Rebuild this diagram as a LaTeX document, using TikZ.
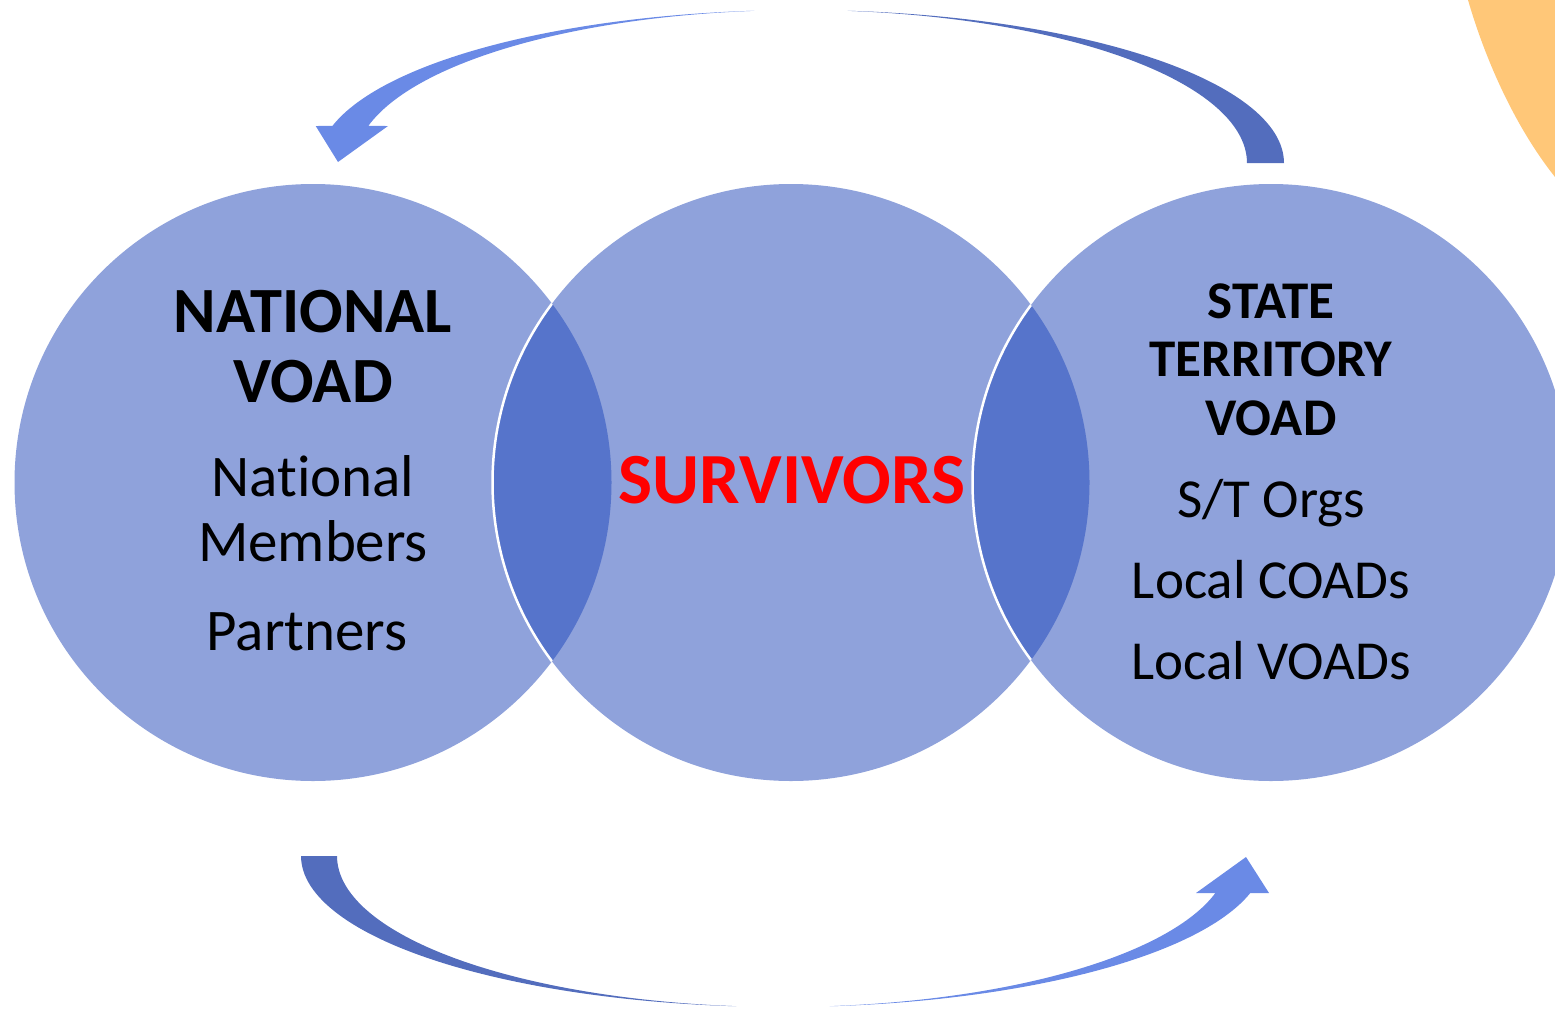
\documentclass[tikz,border=0pt]{standalone}
\usepackage{fontspec}
\setmainfont{Carlito}[Ligatures={NoCommon,NoRare}]
\definecolor{circfill}{HTML}{8FA2DB}
\definecolor{lensfill}{HTML}{5674CB}
\definecolor{arrdark}{HTML}{536DBD}
\definecolor{arrlight}{HTML}{6A8AE6}
\definecolor{sunfill}{HTML}{FFC778}
\definecolor{survred}{HTML}{FF0000}
\tikzset{
  bigcirc/.style={circle, fill=circfill, inner sep=0pt, minimum size=597pt},
  headtxt/.style={anchor=base, font=\fontsize{64.5}{70}\selectfont\bfseries, inner sep=0pt},
  bodytxt/.style={anchor=base, font=\fontsize{59}{66}\selectfont, inner sep=0pt},
  sthead/.style={anchor=base, font=\fontsize{53}{58}\selectfont\bfseries, inner sep=0pt},
  stbody/.style={anchor=base, font=\fontsize{55}{62}\selectfont, inner sep=0pt},
  survtxt/.style={anchor=base, font=\fontsize{72}{76}\selectfont\bfseries, text=survred, inner sep=0pt},
  seam/.style={draw=white, line width=2.5pt}
}
\begin{document}
\begin{tikzpicture}[x=1pt,y=-1pt]
\useasboundingbox (0,0) rectangle (1555,1009);
\clip (0,0) rectangle (1555,1009);
% orange shape top right
\fill[sunfill] (1468,0) .. controls (1486,62) and (1516,128) .. (1555,177) -- (1555,0) -- cycle;
% circles
\node[bigcirc] (L) at (313,482.5) {};
\node[bigcirc] (M) at (791,482.5) {};
\node[bigcirc] (R) at (1271,482.5) {};
% lenses
\begin{scope}
  \clip (L.center) circle[radius=298.5];
  \fill[lensfill] (M.center) circle[radius=298.5];
  \draw[seam] (M.center) circle[radius=298.5];
\end{scope}
\begin{scope}
  \clip (M.center) circle[radius=298.5];
  \fill[lensfill] (R.center) circle[radius=298.5];
  \draw[seam] (R.center) circle[radius=298.5];
\end{scope}
% top arrow: dark part (right)
\fill[arrdark] plot[domain=0:84, samples=60] ({801+483*cos(\x)}, {163-153*sin(\x)})
  -- plot[domain=84:0, samples=60] ({801+446*cos(\x)}, {163-153*sin(\x)}) -- cycle;
% top arrow: light part (left) with head
\fill[arrlight] plot[domain=96:166, samples=60] ({801+483*cos(\x)}, {163-153*sin(\x)})
  -- (315.7,126) -- (338,162) -- (388,126)
  -- plot[domain=166:96, samples=60] ({801+446*cos(\x)}, {163-153*sin(\x)}) -- cycle;
% bottom arrow: dark part (left)
\fill[arrdark] plot[domain=180:96, samples=60] ({783+482*cos(\x)}, {856+151*sin(\x)})
  -- plot[domain=96:180, samples=60] ({783+446*cos(\x)}, {856+151*sin(\x)}) -- cycle;
% bottom arrow: light part (right) with head
\fill[arrlight] plot[domain=84:14.2, samples=60] ({783+482*cos(\x)}, {856+151*sin(\x)})
  -- (1269,893) -- (1246,857) -- (1196,893)
  -- plot[domain=14.2:84, samples=60] ({783+446*cos(\x)}, {856+151*sin(\x)}) -- cycle;
% texts left
\node[headtxt] (n1) at (313,332) {NATIONAL};
\node[headtxt] (n2) at (313,402) {VOAD};
\node[bodytxt] (n3) at (313,496) {Nat\kern0pt ional};
\node[bodytxt] (n4) at (313,561) {Members};
\node[bodytxt] (n5) at (307,650) {Partners};
% center
\node[survtxt] (s1) at (792,503) {SURVIVORS};
% right
\node[sthead] (r1) at (1271,318) {STATE};
\node[sthead] (r2) at (1271,376) {TERRITORY};
\node[sthead] (r3) at (1271,435) {VOAD};
\node[stbody] (r4) at (1271,517) {S/T Orgs};
\node[stbody] (r5) at (1271,598) {Local COADs};
\node[stbody] (r6) at (1271,679) {Local VOADs};
\end{tikzpicture}
\end{document}
